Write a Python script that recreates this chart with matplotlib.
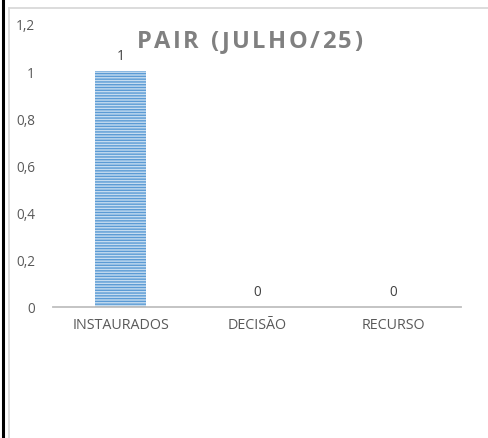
import matplotlib.pyplot as plt
from matplotlib.lines import Line2D
import matplotlib as mpl

categorias = ['INSTAURADOS', 'DECISÃO', 'RECURSO']
valores = [1, 0, 0]
titulo = 'PAIR (JULHO/25)'
yticks = [0, 0.2, 0.4, 0.6, 0.8, 1, 1.2]

mpl.rcParams['hatch.color'] = '#5B9BD5'
mpl.rcParams['hatch.linewidth'] = 1.0
plt.rcParams['font.family'] = ['Open Sans', 'DejaVu Sans']

W, H = 489, 439
fig = plt.figure(figsize=(W / 100, H / 100), dpi=100)

# frame lines (black left edge, grey chart border)
fig.add_artist(Line2D([3 / W, 3 / W], [0, 1], color='black', lw=2.2))
fig.add_artist(Line2D([8.5 / W, 8.5 / W], [0, 1 - 8.5 / H], color='#D9D9D9', lw=1.3))
fig.add_artist(Line2D([8.5 / W, 1], [1 - 8.5 / H, 1 - 8.5 / H], color='#D9D9D9', lw=1.3))

ax = fig.add_axes([53 / W, 1 - 308 / H, 408 / W, (308 - 25) / H])
x = range(len(categorias))
ax.bar(x, valores, width=0.375, color='#C5DCF0', edgecolor='#5B9BD5',
       hatch='------', linewidth=0)
ax.set_xlim(-0.5, 2.5)
ax.set_ylim(0, 1.2)
ax.set_yticks(yticks)
ax.set_yticklabels([str(t).replace('.', ',') if t not in (0, 1) else str(int(t)) for t in yticks])
ax.set_xticks(list(x))
ax.set_xticklabels(categorias)
for s in ['top', 'right', 'left']:
    ax.spines[s].set_visible(False)
ax.spines['bottom'].set_color('#BFBFBF')
ax.spines['bottom'].set_linewidth(1.3)
ax.tick_params(axis='both', length=0, colors='#595959')
ax.tick_params(axis='x', labelsize=10.3, pad=7)
ax.tick_params(axis='y', labelsize=9.8, pad=13)

for i, v in enumerate(valores):
    ax.annotate(str(v), (i, v), xytext=(0, 6), textcoords='offset points',
                ha='center', va='bottom', fontsize=9.8, color='#404040')

# title with a little letter spacing: draw char by char
tam = 17
renderer = fig.canvas.get_renderer()
larguras = []
for ch in titulo:
    t = fig.text(0, 0, ch if ch != ' ' else 'a', fontsize=tam, fontweight='bold')
    larguras.append(t.get_window_extent(renderer).width if ch != ' ' else 7)
    t.remove()
x0, x1 = 137, 362
gap = (x1 - x0 - sum(larguras)) / (len(titulo) - 1)
pos = x0
for ch, w in zip(titulo, larguras):
    if ch != ' ':
        fig.text(pos / W, 1 - 42 / H, ch, ha='left', va='center', fontsize=tam,
                 fontweight='bold', color='#808080')
    pos += w + gap

fig.savefig('out.png', dpi=100)
